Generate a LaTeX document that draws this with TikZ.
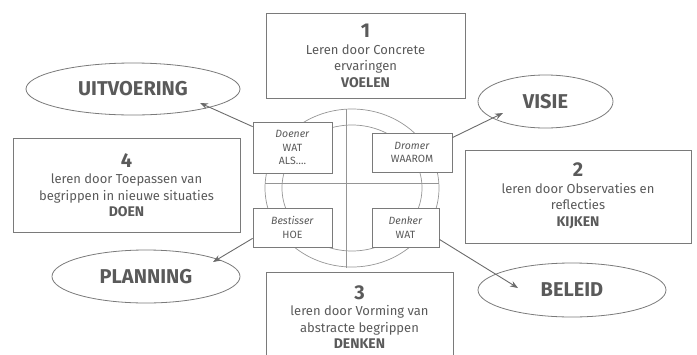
\documentclass[tikz,border=0pt]{standalone}
\usepackage{fontspec}
\setmainfont{Fira Sans}
\usetikzlibrary{arrows.meta,calc,shapes.geometric}
\definecolor{txt}{HTML}{5A5A5A}
\definecolor{ln}{HTML}{7A7A7A}
\tikzset{
  box/.style={draw=ln, line width=0.9pt, rectangle, inner sep=0pt},
  boxtext/.style={text=txt, align=center, font=\fontsize{13}{16.5}\selectfont},
  small/.style={draw=ln, line width=0.8pt, rectangle, inner sep=0pt, text=txt, align=center, font=\fontsize{10.5}{13.5}\selectfont},
  oval/.style={draw=ln, line width=0.8pt, ellipse, inner sep=0pt, text=txt, font=\fontsize{20}{22}\bfseries},
  arr/.style={draw=txt!90, line width=0.9pt, -{Stealth[length=8pt,width=6pt]}},
  wheel/.style={draw=ln!80, line width=0.7pt}
}
\newcommand{\bignum}[1]{{\fontsize{20}{20}\bfseries #1}}
\newcommand{\kw}[1]{{\fontsize{14}{16.5}\bfseries #1}}
\begin{document}
\begin{tikzpicture}[x=1pt,y=-1pt]
\useasboundingbox (0,0) rectangle (697,354);
\clip (0,0) rectangle (697,354);
% wheel
\draw[wheel] (352,188) ellipse [x radius=87, y radius=79];
\draw[wheel] (352,188) ellipse [x radius=70, y radius=63];
\coordinate (vt) at (346,109);
\coordinate (vb) at (346,268);
\coordinate (hl) at (265,183);
\coordinate (hr) at (439,183);
\draw[wheel] (vt) -- (vb);
\draw[wheel] (hl) -- (hr);
% big boxes
\node[box, minimum width=199pt, minimum height=85pt] (b1) at (365.5,55.5) {};
\node[boxtext] at (365.5,56) {\bignum{1}\\Leren door Concrete\\ervaringen\\\kw{VOELEN}};
\node[box, minimum width=226pt, minimum height=93pt] (b2) at (578,196.5) {};
\node[boxtext] at (578,196) {\bignum{2}\\leren door Observaties en\\reflecties\\\kw{KIJKEN}};
\node[box, minimum width=227pt, minimum height=94pt] (b4) at (126.5,185) {};
\node[boxtext] at (126.5,185) {\bignum{4}\\leren door Toepassen van\\begrippen in nieuwe situaties\\\kw{DOEN}};
\node[box, minimum width=187pt, minimum height=100pt] (b3) at (359.5,322) {};
\node[boxtext] at (359.5,317) {\bignum{3}\\leren door Vorming van\\abstracte begrippen\\\kw{DENKEN}};
% small boxes
\node[small, fill=white, minimum width=79pt, minimum height=51pt] (doener) at (292.5,147.5) {\textit{Doener}\\WAT\\ALS\dots.};
\node[small, fill=white, minimum width=80pt, minimum height=39pt] (dromer) at (412,152.5) {\textit{Dromer}\\WAAROM};
\node[small, fill=white, minimum width=79pt, minimum height=39pt] (best) at (292.5,227.5) {\textit{Bestisser}\\HOE};
\node[small, fill=white, minimum width=67pt, minimum height=39pt] (denker) at (405.5,227.5) {\textit{Denker}\\WAT};
% ellipses
\node[oval, minimum width=214pt, minimum height=52pt] (uit) at (133,89) {UITVOERING};
\node[oval, minimum width=135pt, minimum height=53pt] (visie) at (545.5,101.5) {VISIE};
\node[oval, minimum width=188pt, minimum height=54pt] (beleid) at (572,290) {BELEID};
\node[oval, minimum width=188pt, minimum height=53pt] (plan) at (146,276.5) {PLANNING};
% arrow tips
\coordinate (tu) at (200,103);
\coordinate (tv) at (503,113);
\coordinate (tb) at (518,288);
\coordinate (tp) at (213,262);
\draw[arr] ([yshift=-5pt]doener.north west) -- (tu);
\draw[arr] ([yshift=-5pt]dromer.north east) -- (tv);
\draw[arr] ([yshift=8pt]denker.south east) -- (tb);
\draw[arr] ([yshift=9pt]best.south west) -- (tp);
\end{tikzpicture}
\end{document}
